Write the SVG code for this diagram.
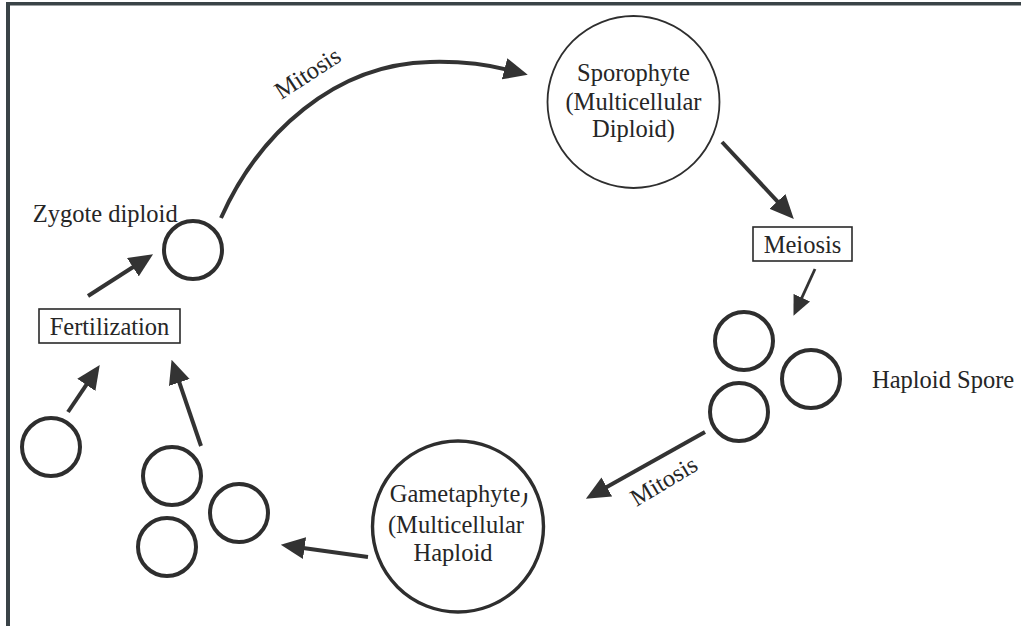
<svg xmlns="http://www.w3.org/2000/svg" width="1021" height="626" viewBox="0 0 1021 626">
  <style>
    .lbl { font-family: "Liberation Serif", "Times New Roman", serif; font-size: 24.5px; fill: #262626; }
    .mid { text-anchor: middle; }
    .cell { fill: none; stroke: #2e2e2e; stroke-width: 4; }
    .box { fill: #ffffff; stroke: #2a2a2a; stroke-width: 1.6; }
    .flow { fill: none; stroke: #333333; stroke-width: 4; stroke-linecap: butt; }
    .thin { stroke-width: 2.8; }
    .frame { stroke: #3a4347; fill: none; }
  </style>
  <defs>
    <marker id="head" markerUnits="userSpaceOnUse" markerWidth="24" markerHeight="22" viewBox="0 0 22 20" refX="8" refY="10" orient="auto">
      <path d="M0,0 L22,10 L0,20 Z" fill="#333333"/>
    </marker>
    <marker id="headSmall" markerUnits="userSpaceOnUse" markerWidth="20" markerHeight="19" viewBox="0 0 22 20" refX="8" refY="10" orient="auto">
      <path d="M0,0 L22,10 L0,20 Z" fill="#333333"/>
    </marker>
    <clipPath id="parenClip">
      <rect x="515" y="493" width="20" height="20"/>
    </clipPath>
  </defs>

  <rect width="1021" height="626" fill="#ffffff"/>

  <!-- page frame: top and left rules -->
  <line class="frame" x1="6" y1="3.8" x2="1021" y2="3.8" stroke-width="3.6"/>
  <line class="frame" x1="8" y1="2" x2="8" y2="626" stroke-width="4"/>

  <!-- connectors -->
  <g id="connectors">
    <path id="mitosis-up" class="flow" d="M221,218 C259,133 335,64 430,62 C465,61 490,65 513,71" marker-end="url(#head)"/>
    <line id="sporo-meiosis" class="flow" x1="722" y1="142" x2="783.4" y2="207.8" marker-end="url(#head)"/>
    <line id="meiosis-spores" class="flow thin" x1="815" y1="269" x2="798.8" y2="304.3" marker-end="url(#headSmall)"/>
    <line id="mitosis-down" class="flow" x1="705" y1="432" x2="599.2" y2="491.2" marker-end="url(#head)"/>
    <line id="gameto-gametes" class="flow" x1="368" y1="557" x2="295.9" y2="546.9" marker-end="url(#head)"/>
    <line id="gamete-b-fert" class="flow" x1="201" y1="446" x2="176.5" y2="374.2" marker-end="url(#head)"/>
    <line id="gamete-a-fert" class="flow" x1="68" y1="412" x2="91.2" y2="377.6" marker-end="url(#head)"/>
    <line id="fert-zygote" class="flow" x1="88" y1="296" x2="140.2" y2="262.5" marker-end="url(#head)"/>
    <text class="lbl mid" x="312" y="80" transform="rotate(-33 312 80)">Mitosis</text>
    <text class="lbl mid" x="668" y="488" transform="rotate(-31 668 488)">Mitosis</text>
  </g>

  <!-- sporophyte -->
  <g id="sporophyte">
    <circle cx="633.5" cy="102" r="86" fill="none" stroke="#2e2e2e" stroke-width="1.8"/>
    <text class="lbl mid" x="633.5" y="80.7">Sporophyte</text>
    <text class="lbl mid" x="633.5" y="110">(Multicellular</text>
    <text class="lbl mid" x="633.5" y="136.7">Diploid)</text>
  </g>

  <!-- meiosis step -->
  <g id="meiosis">
    <rect class="box" x="753" y="227" width="99" height="34"/>
    <text class="lbl mid" x="802.5" y="253">Meiosis</text>
  </g>

  <!-- haploid spores -->
  <g id="spores">
    <circle class="cell" cx="744" cy="341" r="29"/>
    <circle class="cell" cx="811" cy="379" r="29"/>
    <circle class="cell" cx="739" cy="412" r="29"/>
    <text class="lbl" x="872" y="388">Haploid Spore</text>
  </g>

  <!-- gametophyte -->
  <g id="gametophyte">
    <circle cx="458" cy="526.5" r="85.5" fill="none" stroke="#2e2e2e" stroke-width="3.4"/>
    <text class="lbl mid" x="455" y="501.7">Gametaphyte</text>
    <text class="lbl" x="520" y="501.7" clip-path="url(#parenClip)">)</text>
    <text class="lbl mid" x="456" y="532.7">(Multicellular</text>
    <text class="lbl mid" x="453" y="560.7">Haploid</text>
  </g>

  <!-- gametes -->
  <g id="gametes">
    <circle class="cell" cx="51" cy="447" r="29"/>
    <circle class="cell" cx="172" cy="476" r="29"/>
    <circle class="cell" cx="239" cy="513" r="29"/>
    <circle class="cell" cx="167" cy="547" r="29"/>
  </g>

  <!-- fertilization step -->
  <g id="fertilization">
    <rect class="box" x="39" y="309" width="141" height="34"/>
    <text class="lbl mid" x="109.5" y="335">Fertilization</text>
  </g>

  <!-- zygote -->
  <g id="zygote">
    <circle class="cell" cx="193" cy="250" r="29"/>
    <text class="lbl" x="32.7" y="221.7">Zygote diploid</text>
  </g>
</svg>
